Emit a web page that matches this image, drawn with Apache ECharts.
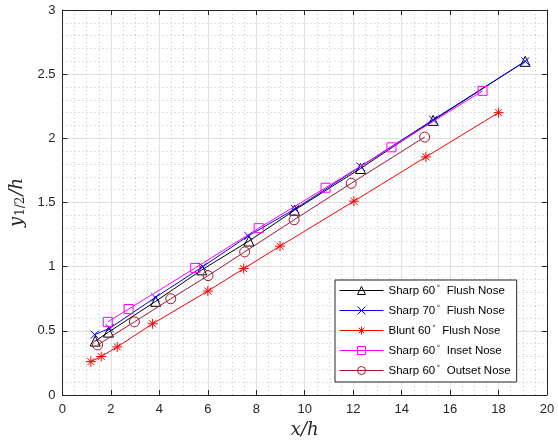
<!DOCTYPE html>
<html><head><meta charset="utf-8">
<script src="https://cdn.jsdelivr.net/npm/echarts@6/dist/echarts.min.js"></script>
<style>html,body{margin:0;padding:0;background:#fff}#c{width:558px;height:444px}</style>
</head><body><div id="c"></div>
<script>
var seriesNames = ['Sharp 60° Flush Nose','Sharp 70° Flush Nose','Blunt 60° Flush Nose','Sharp 60° Inset Nose','Sharp 60° Outset Nose'];
var xSharp60Flush = [1.35, 1.9, 3.85, 5.75, 7.7, 9.58, 12.3, 15.3, 19.1];
var ySharp60Flush = [0.42, 0.49, 0.73, 0.975, 1.2, 1.44, 1.765, 2.14, 2.6];
var xSharp70Flush = [1.33, 1.95, 3.83, 5.79, 7.67, 9.6, 12.3, 15.3, 19.1];
var ySharp70Flush = [0.47, 0.52, 0.76, 1.0, 1.24, 1.45, 1.78, 2.145, 2.6];
var xBlunt60Flush = [1.17, 1.6, 2.26, 3.72, 6.0, 7.48, 8.98, 12.03, 15.0, 18.0];
var yBlunt60Flush = [0.26, 0.30, 0.375, 0.555, 0.81, 0.985, 1.16, 1.51, 1.855, 2.2];
var xSharp60Inset = [1.87, 2.73, 5.48, 8.1, 10.86, 13.58, 17.34];
var ySharp60Inset = [0.57, 0.67, 0.99, 1.30, 1.615, 1.93, 2.37];
var xSharp60Outset = [1.45, 2.97, 4.47, 6.01, 7.52, 9.56, 11.92, 14.95];
var ySharp60Outset = [0.39, 0.57, 0.75, 0.93, 1.115, 1.365, 1.65, 2.01];
var xTicks = [0, 2, 4, 6, 8, 10, 12, 14, 16, 18, 20];
var yTicks = [0, 0.5, 1, 1.5, 2, 2.5, 3];

function pairs(xs, ys){ return xs.map(function(x,i){ return [x, ys[i]]; }); }

var symX = 'path://M0,0L10,10M10,0L0,10';
var symStar = 'path://M0,5L10,5M5,0L5,10M1.5,1.5L8.5,8.5M8.5,1.5L1.5,8.5';
var styles = [
  {color:'#000000', symbol:'triangle', size:10},
  {color:'#0000ff', symbol:symX, size:8},
  {color:'#ff0000', symbol:symStar, size:10},
  {color:'#ff00ff', symbol:'rect', size:9},
  {color:'#a2142f', symbol:'circle', size:10}
];
var datasets = [
  pairs(xSharp60Flush, ySharp60Flush),
  pairs(xSharp70Flush, ySharp70Flush),
  pairs(xBlunt60Flush, yBlunt60Flush),
  pairs(xSharp60Inset, ySharp60Inset),
  pairs(xSharp60Outset, ySharp60Outset)
];
var series = datasets.map(function(d, i){
  var s = styles[i];
  return {
    name: seriesNames[i], type:'line', data:d, xAxisIndex:0, yAxisIndex:0,
    symbol: s.symbol, symbolSize: s.size, showAllSymbol:true,
    lineStyle:{color:s.color, width:1},
    itemStyle:{color:'rgba(0,0,0,0)', borderColor:s.color, borderWidth:1},
    animation:false, z: 3 + i
  };
});

var axisCol = '#262626';
var mathFont = 'DejaVu Serif, Liberation Serif, serif';
var tickFont = {color:axisCol, fontSize:13, fontFamily:'Liberation Sans, Arial, sans-serif'};
var chart = echarts.init(document.getElementById('c'), null, {renderer:'canvas'});
chart.setOption({
  animation:false,
  backgroundColor:'#fff',
  grid:{left:61, right:11, top:10, bottom:49, containLabel:false},
  legend:{
    data: seriesNames, orient:'vertical', left:335, top:280,
    backgroundColor:'#fff', borderColor:axisCol, borderWidth:1,
    padding:[3,6,4,4], itemWidth:44, itemHeight:10, itemGap:5,
    lineStyle:{width:1},
    itemStyle:{color:'rgba(0,0,0,0)', borderWidth:1},
    textStyle:{fontSize:11.5, color:'#000', fontFamily:'Liberation Sans, Arial, sans-serif', lineHeight:15,
      rich:{sup:{fontSize:7, verticalAlign:'top', padding:[0,3,6,1], fontFamily:'DejaVu Sans'}}},
    formatter:function(n){ return n.replace('°', '{sup|∘}'); }
  },
  xAxis:[{
    type:'value', min:0, max:20, interval:2, position:'bottom',
    name:'x/h', nameLocation:'middle', nameGap:26,
    nameTextStyle:{fontFamily:mathFont, fontStyle:'italic', fontSize:18, color:axisCol},
    axisLine:{show:true, onZero:false, lineStyle:{color:axisCol, width:1}},
    axisTick:{show:true, inside:true, length:5, lineStyle:{color:axisCol}},
    axisLabel:Object.assign({margin:8, formatter:function(v){return xTicks.indexOf(v)>=0?String(v):'';}}, tickFont),
    splitLine:{show:true, lineStyle:{color:'#e0e0e0', width:1}},
    minorTick:{show:false, splitNumber:4},
    minorSplitLine:{show:true, lineStyle:{color:'#c4c4c4', type:[1,3], width:1}}
  },{
    type:'value', min:0, max:20, interval:2, position:'top',
    axisLine:{show:true, onZero:false, lineStyle:{color:axisCol, width:1}},
    axisTick:{show:true, inside:true, length:5, lineStyle:{color:axisCol}},
    axisLabel:{show:false}, splitLine:{show:false}
  }],
  yAxis:[{
    type:'value', min:0, max:3, interval:0.5, position:'left',
    name:'y{sub|1/2}/h', nameLocation:'middle', nameGap:30,
    nameTextStyle:{fontFamily:mathFont, fontStyle:'italic', fontSize:18, color:axisCol,
      rich:{sub:{fontFamily:mathFont, fontStyle:'normal', fontSize:12, color:axisCol, verticalAlign:'bottom', padding:[7,1,0,1]}}},
    axisLine:{show:true, onZero:false, lineStyle:{color:axisCol, width:1}},
    axisTick:{show:true, inside:true, length:5, lineStyle:{color:axisCol}},
    axisLabel:Object.assign({margin:7, formatter:function(v){return yTicks.indexOf(v)>=0?String(v):'';}}, tickFont),
    splitLine:{show:true, lineStyle:{color:'#e0e0e0', width:1}},
    minorTick:{show:false, splitNumber:5},
    minorSplitLine:{show:true, lineStyle:{color:'#c4c4c4', type:[1,3], width:1}}
  },{
    type:'value', min:0, max:3, interval:0.5, position:'right',
    axisLine:{show:true, onZero:false, lineStyle:{color:axisCol, width:1}},
    axisTick:{show:true, inside:true, length:5, lineStyle:{color:axisCol}},
    axisLabel:{show:false}, splitLine:{show:false}
  }],
  series: series
});
</script></body></html>
